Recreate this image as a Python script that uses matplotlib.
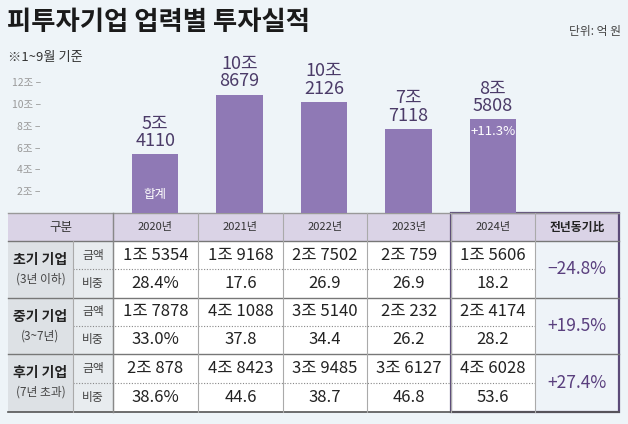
import matplotlib
matplotlib.use('Agg')
import matplotlib.pyplot as plt
from matplotlib.patches import Rectangle

plt.rcParams['font.family'] = ['Noto Sans CJK KR', 'DejaVu Sans']

# data (억 원)
years = ['2020년', '2021년', '2022년', '2023년', '2024년']
totals = [54110, 108679, 102126, 77118, 85808]
yticks = [2, 4, 6, 8, 10, 12]

groups = ['초기 기업', '중기 기업', '후기 기업']
group_notes = ['(3년 이하)', '(3~7년)', '(7년 초과)']
early_amt = ['1조 5354', '1조 9168', '2조 7502', '2조 759', '1조 5606']
early_share = ['28.4%', '17.6', '26.9', '26.9', '18.2']
mid_amt = ['1조 7878', '4조 1088', '3조 5140', '2조 232', '2조 4174']
mid_share = ['33.0%', '37.8', '34.4', '26.2', '28.2']
late_amt = ['2조 878', '4조 8423', '3조 9485', '3조 6127', '4조 6028']
late_share = ['38.6%', '44.6', '38.7', '46.8', '53.6']
yoy = ['−24.8%', '+19.5%', '+27.4%']

BG = '#eef4f8'
BAR = '#8f79b5'
DARK = '#4b3b68'
W, H = 628, 424

fig = plt.figure(figsize=(W / 100, H / 100), dpi=100, facecolor=BG)
bg = fig.add_axes([0, 0, 1, 1])
bg.set_xlim(0, W)
bg.set_ylim(H, 0)
bg.axis('off')

# titles
bg.text(7, 23, '피투자기업 업력별 투자실적', fontsize=19, fontweight='bold',
        color='#1a1a1a', va='center', ha='left')
bg.text(8, 57, '※1~9월 기준', fontsize=9.5, color='#333333', va='center')
bg.text(621, 31, '단위: 억 원', fontsize=8.5, color='#444444', va='center', ha='right')

# table geometry
col_edges = [8, 73, 113, 198, 283, 367, 451, 535, 619]
grp_rows = [(241, 269, 298), (298, 326, 354), (354, 383, 412)]

# header background
bg.add_patch(Rectangle((8, 213), 611, 28, facecolor='#dad3e6', edgecolor='none'))
bg.text((8 + 113) / 2, 227, '구분', fontsize=9, color='#333333', ha='center', va='center')
for i, y in enumerate(years):
    cx = (col_edges[i + 2] + col_edges[i + 3]) / 2
    bg.text(cx, 227, y, fontsize=8, color='#333333', ha='center', va='center')
bg.text((535 + 619) / 2, 227, '전년동기比', fontsize=8.5, fontweight='bold',
        color='#222222', ha='center', va='center')

amts = [early_amt, mid_amt, late_amt]
shares = [early_share, mid_share, late_share]
for g, (top, mid, bot) in enumerate(grp_rows):
    bg.add_patch(Rectangle((8, top), 65, bot - top, facecolor='#dde1e5', edgecolor='none'))
    bg.add_patch(Rectangle((73, top), 40, bot - top, facecolor='#e8ecef', edgecolor='none'))
    bg.add_patch(Rectangle((113, top), 422, bot - top, facecolor='white', edgecolor='none'))
    bg.add_patch(Rectangle((535, top), 84, bot - top, facecolor='#eef3f8', edgecolor='none'))
    bg.text(40.5, top + 19, groups[g], fontsize=10, fontweight='bold', color='#222222',
            ha='center', va='center')
    bg.text(40.5, top + 38, group_notes[g], fontsize=8.5, color='#444444',
            ha='center', va='center')
    bg.text(93, (top + mid) / 2, '금액', fontsize=8.5, color='#444444', ha='center', va='center')
    bg.text(93, (mid + bot) / 2, '비중', fontsize=8.5, color='#444444', ha='center', va='center')
    for i in range(5):
        cx = (col_edges[i + 2] + col_edges[i + 3]) / 2
        bg.text(cx, (top + mid) / 2, amts[g][i], fontsize=12, color='#222222',
                ha='center', va='center')
        bg.text(cx, (mid + bot) / 2, shares[g][i], fontsize=12, color='#222222',
                ha='center', va='center')
    bg.text(577, (top + bot) / 2, yoy[g], fontsize=12.5, color='#5a3f7e',
            ha='center', va='center')
    # dotted divider
    bg.plot([73, 535], [mid, mid], color='#888888', lw=0.8, ls=(0, (1, 1.5)))
    # solid divider on top of group
    bg.plot([8, 619], [top, top], color='#777777', lw=1.0)

# table outer lines
bg.plot([8, 619], [213, 213], color='#999999', lw=1.0)
bg.plot([8, 619], [412, 412], color='#555555', lw=1.2)
bg.plot([73, 73], [241, 412], color='#aaaaaa', lw=0.8)
for x in col_edges[2:-1]:
    bg.plot([x, x], [213, 412], color='#aaaaaa', lw=0.8)
bg.plot([113, 113], [213, 412], color='#888888', lw=1.0)

# highlight box around 2024 and yoy
bg.add_patch(Rectangle((451, 213), 168, 199, facecolor='none', edgecolor='#5b4a78', lw=1.6))

# bars
ax = fig.add_axes([113 / W, (H - 213) / H, (535 - 113) / W, 13 * 10.9 / H])
ax.set_facecolor('none')
xs = range(len(totals))
vals = [t / 10000 for t in totals]
ax.bar(xs, vals, width=0.55, color=BAR, zorder=2)
ax.set_xlim(-0.5, 4.5)
ax.set_ylim(0, 13)
for s in ax.spines.values():
    s.set_visible(False)
ax.set_xticks([])
ax.set_yticks(yticks)
ax.set_yticklabels([f'{t}조 –' for t in yticks], fontsize=7.5, color='#999999')
ax.tick_params(axis='y', length=0, pad=52)

for x, t, v in zip(xs, totals, vals):
    ax.annotate(f'{t // 10000}조\n{t % 10000}', (x, v), xytext=(0, 3),
                textcoords='offset points', ha='center', va='bottom',
                fontsize=13, color=DARK, linespacing=0.95)
ax.annotate('합계', (0, 0), xytext=(0, 13), textcoords='offset points',
            ha='center', va='center', fontsize=9, color='white')
ax.annotate('+11.3%', (4, vals[4]), xytext=(0, -9), textcoords='offset points',
            ha='center', va='center', fontsize=9.5, color='white')

fig.savefig('out.png', dpi=100, facecolor=BG)
